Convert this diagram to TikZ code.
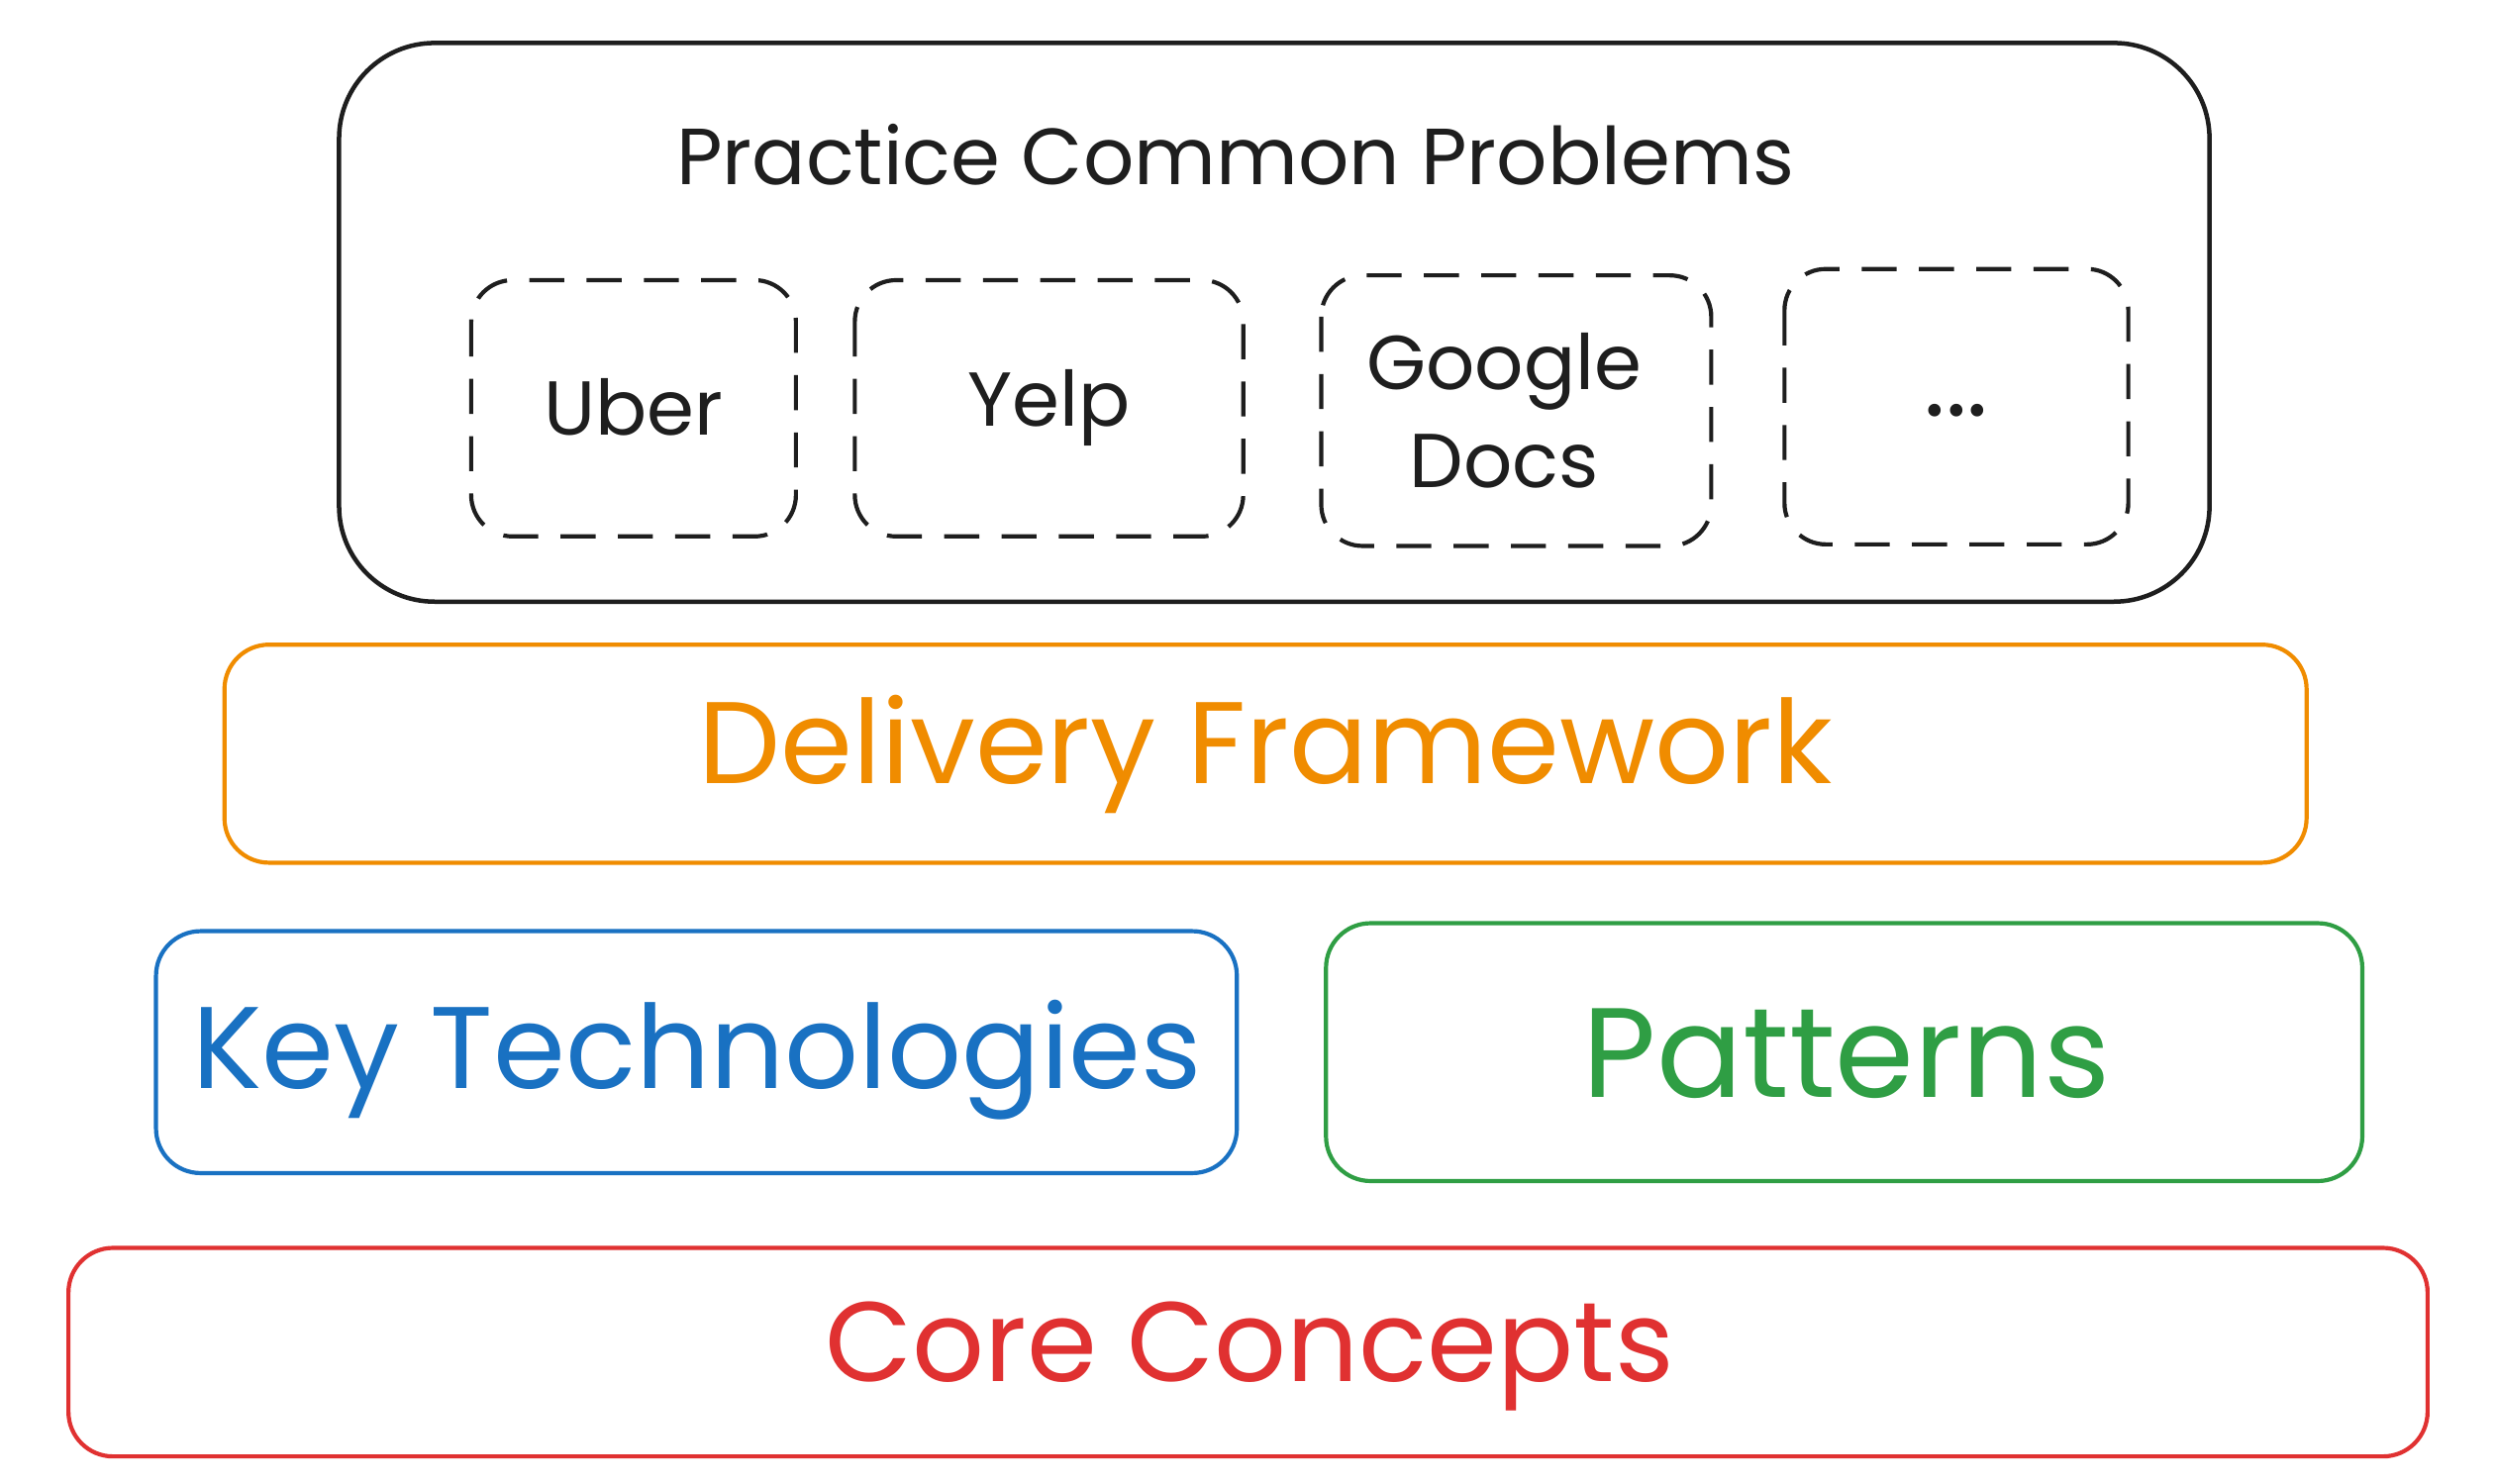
\documentclass[tikz,border=0pt]{standalone}
\usepackage{fontspec}
\setmainfont{Poppins}
\definecolor{cblack}{HTML}{1E1E1E}
\definecolor{corange}{HTML}{F08C00}
\definecolor{cblue}{HTML}{1971C2}
\definecolor{cgreen}{HTML}{2F9E44}
\definecolor{cred}{HTML}{E03131}
\begin{document}
\begin{tikzpicture}[x=1pt,y=-1pt,
  layer/.style={line width=2.6pt, rounded corners=28pt},
  probbox/.style={draw=cblack, line width=2.6pt, dash pattern=on 22pt off 14pt, rounded corners=26pt},
  bigtxt/.style={font=\fontsize{73}{84}\selectfont},
  midtxt/.style={font=\fontsize{50}{60}\selectfont, text=cblack},
  smalltxt/.style={font=\fontsize{48}{62}\selectfont, text=cblack, align=center}]
\useasboundingbox[fill=white] (0,0) rectangle (1568,932);
% outer box
\draw[cblack, line width=2.8pt, rounded corners=60pt] (213,27) rectangle (1388,378);
\node[midtxt] (title) at (776,97) {Practice Common Problems};
% problem boxes
\draw[probbox] (296,176) rectangle (500,337);
\node[smalltxt] (uber) at (398,256) {Uber};
\draw[probbox] (537,176) rectangle (781,337);
\node[smalltxt] (yelp) at (659,256) {Yelp};
\draw[probbox] (830,173) rectangle (1075,343);
\node[smalltxt] (gdocs) at (945,258) {Google\\Docs};
\draw[probbox] (1121,169) rectangle (1337,342);
\node[font=\fontsize{64}{70}\selectfont, text=cblack] (dots) at (1229,258) {...};
% delivery framework
\draw[layer, corange] (141,405) rectangle (1449,542);
\node[bigtxt, text=corange] (df) at (795,474) {Delivery Framework};
% key technologies
\draw[layer, cblue] (98,585) rectangle (777,737);
\node[bigtxt, text=cblue] (kt) at (438,666) {Key Technologies};
% patterns
\draw[layer, cgreen] (833,580) rectangle (1484,742);
\node[font=\fontsize{80}{90}\selectfont, text=cgreen] (pat) at (1160,662) {Patterns};
% core concepts
\draw[layer, cred] (43,784) rectangle (1525,915);
\node[font=\fontsize{71}{82}\selectfont, text=cred] (cc) at (785,852) {Core Concepts};
\end{tikzpicture}
\end{document}
